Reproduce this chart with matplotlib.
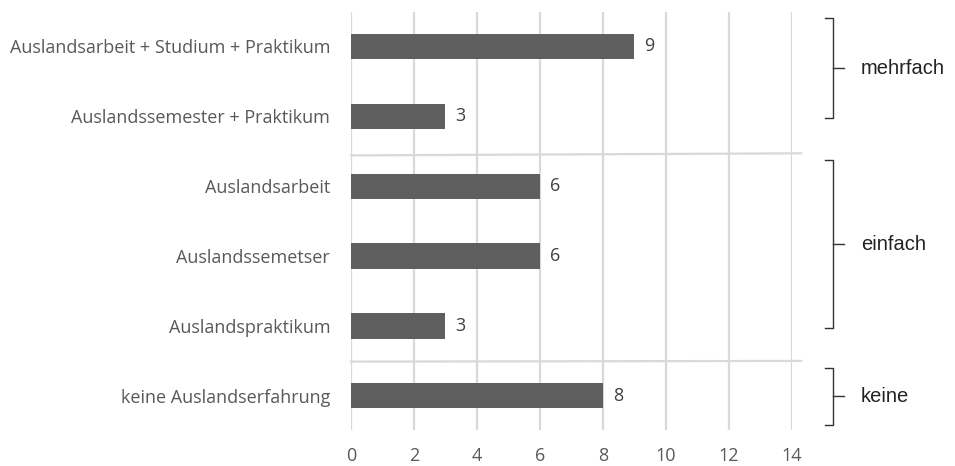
import matplotlib.pyplot as plt

categories = ["Auslandsarbeit + Studium + Praktikum", "Auslandssemester + Praktikum",
              "Auslandsarbeit", "Auslandssemetser", "Auslandspraktikum",
              "keine Auslandserfahrung"]
values = [9, 3, 6, 6, 3, 8]
ticks = [0, 2, 4, 6, 8, 10, 12, 14]
groups = ["mehrfach", "einfach", "keine"]
group_spans = [(-0.41, 1.03), (1.63, 4.03), (4.6, 5.41)]
separators = [(1.56, 1.53), (4.51, 4.50)]

gray = "#595959"
grid = "#d9d9d9"

fig = plt.figure(figsize=(9.55, 4.66), dpi=100)
ax = fig.add_axes([0.3675, 0.077, 0.4615, 0.897])

ypos = list(range(len(categories)))
ax.barh(ypos, values, height=0.36, color="#5f5f5f", zorder=3)
for y, v in zip(ypos, values):
    ax.text(v + 0.32, y, str(v), va="center", ha="left", fontsize=13,
            color="#404040", family="Open Sans")

ax.set_xlim(0, 14)
ax.set_ylim(5.49, -0.49)
ax.set_xticks(ticks)
ax.set_yticks(ypos)
ax.set_yticklabels(categories, family="Open Sans", fontsize=13, color=gray)
ax.set_xticklabels([str(t) for t in ticks], family="Open Sans", fontsize=13, color=gray)
ax.tick_params(length=0)
ax.tick_params(axis="y", pad=15)
ax.tick_params(axis="x", pad=12)
ax.grid(axis="x", color=grid, linewidth=1.6, zorder=0)
for s in ax.spines.values():
    s.set_visible(False)

for y0, y1 in separators:
    ax.plot([0, 14.3], [y0, y1], color=grid, linewidth=1.6, clip_on=False, zorder=1)

xb = 15.3
hook = 0.25
for (top, bot), name in zip(group_spans, groups):
    mid = (top + bot) / 2
    ax.plot([xb - hook, xb, xb, xb - hook], [top, top, bot, bot],
            color="#333333", linewidth=1.0, clip_on=False)
    ax.plot([xb, xb + 0.36], [mid, mid], color="#333333", linewidth=1.0, clip_on=False)
    ax.text(16.2, mid, name, va="center", ha="left", fontsize=14.5,
            color="#222222", family="Liberation Sans")

fig.savefig("out.png", dpi=100)
